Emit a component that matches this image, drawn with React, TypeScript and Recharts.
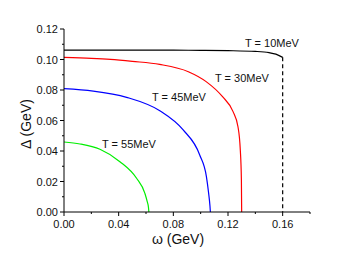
import React from 'react';
import { LineChart, Line, XAxis, YAxis } from 'recharts';

const FONT = '"Liberation Sans", Arial, sans-serif';

// omega (GeV) / gap (GeV)
const omegaT10 = [0, 0.04, 0.08, 0.1, 0.12, 0.14, 0.15, 0.155, 0.16];
const gapT10 = [0.1062, 0.1062, 0.1061, 0.106, 0.1058, 0.1053, 0.1045, 0.1035, 0.1014];

const omegaT30 = [0, 0.02, 0.034, 0.05, 0.07, 0.091, 0.104, 0.116, 0.1237, 0.1273, 0.129, 0.1298, 0.13];
const gapT30 = [0.1014, 0.1008, 0.1001, 0.0988, 0.0968, 0.092, 0.0855, 0.0756, 0.0658, 0.0559, 0.0407, 0.021, 0];

const omegaT45 = [0, 0.0214, 0.0458, 0.0701, 0.0872, 0.0993, 0.1042, 0.1058, 0.1068, 0.1071];
const gapT45 = [0.0809, 0.0793, 0.0752, 0.0664, 0.0538, 0.0374, 0.0232, 0.0125, 0.004, 0];

const omegaT55 = [0, 0.0117, 0.0263, 0.0409, 0.0531, 0.0592, 0.0609, 0.0618, 0.0621];
const gapT55 = [0.0459, 0.0446, 0.0411, 0.033, 0.0221, 0.0122, 0.0068, 0.003, 0];

const omegaCut = [0.16, 0.16];
const gapCut = [0.1014, 0];

const xTicks = [0, 0.02, 0.04, 0.06, 0.08, 0.1, 0.12, 0.14, 0.16, 0.18];
const yTicks = [0, 0.01, 0.02, 0.03, 0.04, 0.05, 0.06, 0.07, 0.08, 0.09, 0.1, 0.11, 0.12];

const zip = (xs: number[], ys: number[]) => xs.map((x, i) => ({ x, y: ys[i] }));

const isMajorX = (v: number) => Math.round(v * 100) % 4 === 0;
const isMajorY = (v: number) => Math.round(v * 100) % 2 === 0;

function BottomTick({ x, y, payload }: any) {
  const major = isMajorX(payload.value);
  return (
    <g>
      <line x1={x} x2={x} y1={y} y2={y + (major ? 4 : 2)} stroke="#000" />
      {major && payload.value < 0.17 && (
        <text x={x} y={y + 16} textAnchor="middle" fontSize={11} fontFamily={FONT} fill="#111">
          {payload.value.toFixed(2)}
        </text>
      )}
    </g>
  );
}

function LeftTick({ x, y, payload }: any) {
  const major = isMajorY(payload.value);
  return (
    <g>
      <line x1={x} x2={x - (major ? 4 : 2)} y1={y} y2={y} stroke="#000" />
      {major && (
        <text x={x - 6} y={y + 4} textAnchor="end" fontSize={11} fontFamily={FONT} fill="#111">
          {payload.value.toFixed(2)}
        </text>
      )}
    </g>
  );
}

function TopTick({ x, y }: any) {
  return <line x1={x} x2={x} y1={y} y2={y + 3} stroke="#000" />;
}

function RightTick({ x, y }: any) {
  return <line x1={x} x2={x - 3} y1={y} y2={y} stroke="#000" />;
}

const curveLabels = [
  { text: 'T = 10MeV', x: 245, y: 47 },
  { text: 'T = 30MeV', x: 215, y: 82 },
  { text: 'T = 45MeV', x: 152, y: 101 },
  { text: 'T = 55MeV', x: 102, y: 148 },
];

export default function App() {
  return (
    <div style={{ position: 'absolute', left: 0, top: 0, width: 361, height: 255, background: '#fff' }}>
      <LineChart width={361} height={255} margin={{ top: 29, right: 51, left: 0, bottom: 0 }}>
        <XAxis
          xAxisId="b"
          type="number"
          dataKey="x"
          domain={[0, 0.18]}
          ticks={xTicks}
          interval={0}
          height={43}
          tickSize={0}
          tickMargin={0}
          tickLine={false}
          axisLine={{ stroke: '#000' }}
          tick={<BottomTick />}
          allowDataOverflow
          label={{
            content: () => (
              <text x={178} y={244} textAnchor="middle" fontSize={14} fontFamily={FONT} fill="#111">
                ω (GeV)
              </text>
            ),
          }}
        />
        <XAxis
          xAxisId="t"
          orientation="top"
          type="number"
          dataKey="x"
          domain={[0, 0.18]}
          ticks={xTicks}
          interval={0}
          height={0}
          tickSize={0}
          tickMargin={0}
          tickLine={false}
          axisLine={{ stroke: '#000' }}
          tick={<TopTick />}
          allowDataOverflow
        />
        <YAxis
          yAxisId="l"
          type="number"
          domain={[0, 0.12]}
          ticks={yTicks}
          interval={0}
          width={64}
          tickSize={0}
          tickMargin={0}
          tickLine={false}
          axisLine={{ stroke: '#000' }}
          tick={<LeftTick />}
          allowDataOverflow
          label={{
            content: () => (
              <text
                x={31}
                y={124}
                transform="rotate(-90 31 124)"
                textAnchor="middle"
                fontSize={14}
                fontFamily={FONT}
                fill="#111"
              >
                Δ (GeV)
              </text>
            ),
          }}
        />
        <YAxis
          yAxisId="r"
          orientation="right"
          type="number"
          domain={[0, 0.12]}
          ticks={yTicks}
          interval={0}
          width={0}
          tickSize={0}
          tickMargin={0}
          tickLine={false}
          axisLine={{ stroke: '#000' }}
          tick={<RightTick />}
          allowDataOverflow
        />
        <Line xAxisId="b" yAxisId="l" data={zip(omegaT10, gapT10)} dataKey="y" type="monotone" stroke="#000" strokeWidth={1.2} dot={false} isAnimationActive={false} />
        <Line xAxisId="b" yAxisId="l" data={zip(omegaCut, gapCut)} dataKey="y" type="linear" stroke="#000" strokeWidth={1.2} strokeDasharray="4 3" dot={false} isAnimationActive={false} />
        <Line xAxisId="b" yAxisId="l" data={zip(omegaT30, gapT30)} dataKey="y" type="monotone" stroke="#ff0000" strokeWidth={1.2} dot={false} isAnimationActive={false} />
        <Line xAxisId="b" yAxisId="l" data={zip(omegaT45, gapT45)} dataKey="y" type="monotone" stroke="#0000ff" strokeWidth={1.2} dot={false} isAnimationActive={false} />
        <Line xAxisId="b" yAxisId="l" data={zip(omegaT55, gapT55)} dataKey="y" type="monotone" stroke="#00ee00" strokeWidth={1.2} dot={false} isAnimationActive={false} />
        {curveLabels.map((l) => (
          <text key={l.text} x={l.x} y={l.y} fontSize={11} fontFamily={FONT} fill="#111">
            {l.text}
          </text>
        ))}
      </LineChart>
    </div>
  );
}
